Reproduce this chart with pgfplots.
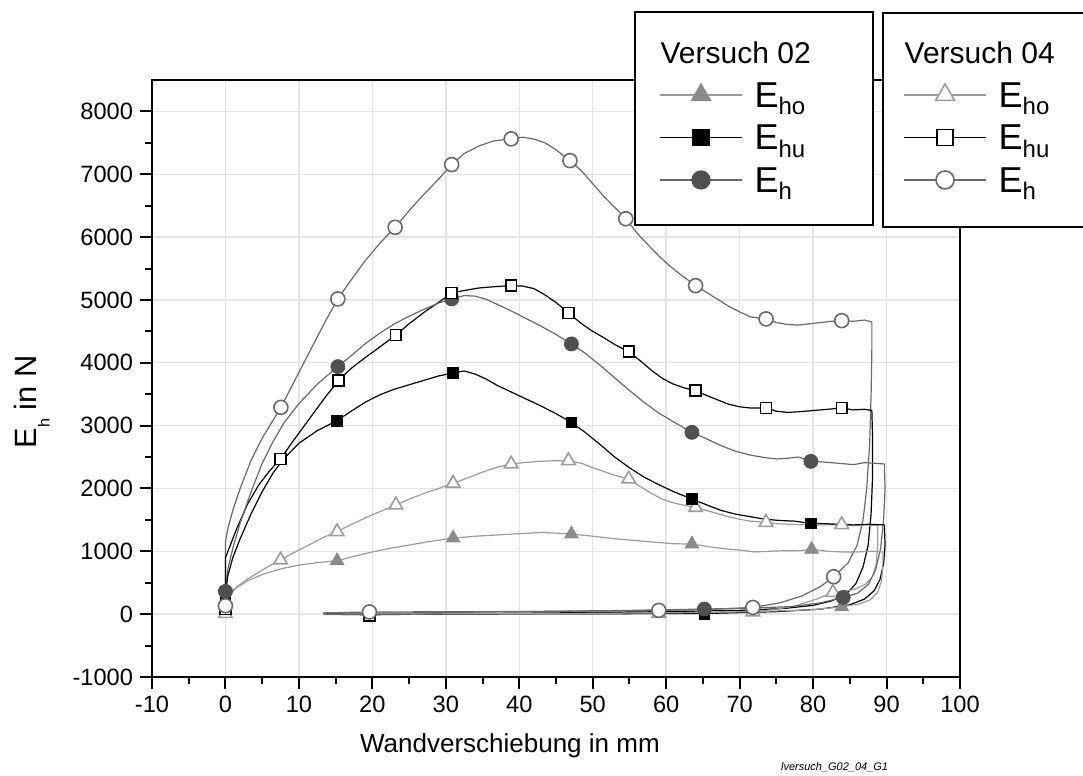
\documentclass[border=0pt]{standalone}
\usepackage{fontspec}
\setmainfont{Liberation Sans}
\usepackage{pgfplots}
\pgfplotsset{compat=1.18}

\definecolor{lgray}{HTML}{9C9C9C}
\definecolor{tgray}{HTML}{8A8A8A}
\definecolor{mgray}{HTML}{6A6A6A}
\definecolor{dgray}{HTML}{505050}

% E with a lowered index, as in the legend boxes
\newcommand{\Eleg}[1]{{\fontsize{18}{20}\selectfont E}\raisebox{-3.8pt}{\fontsize{12}{14}\selectfont #1}}

\pgfplotsset{
  base/.style={at={(0pt,0pt)}, anchor=south west, scale only axis,
    width=404pt, height=298.5pt,
    xmin=-10, xmax=100, ymin=-1000, ymax=8500},
  legbox/.style={hide axis, legend cell align=left,
    legend style={anchor=north west, draw=none, fill=none, inner sep=0pt,
      row sep=0pt, column sep=6pt,
      nodes={inner sep=0pt, text depth=0pt, minimum height=21.25pt},
      font=\fontsize{15}{18}\selectfont},
    legend image code/.code={\draw[mark repeat=2,mark phase=2,##1]
      plot coordinates {(0pt,0pt) (20.5pt,0pt) (41pt,0pt)};}},
}

\begin{document}
\begin{tikzpicture}
\begin{axis}[base,
  xtick={-10,0,...,100}, ytick={-1000,0,...,8000},
  minor x tick num=1, minor y tick num=1,
  tick align=outside, tick pos=left,
  major tick length=6pt, minor tick length=3.5pt,
  tick style={black, line width=1pt},
  axis line style={line width=1pt},
  grid=major, major grid style={black!10, line width=0.7pt},
  scaled ticks=false,
  tick label style={font=\fontsize{11.8}{13}\selectfont},
  /pgf/number format/assume math mode=true,
  /pgf/number format/1000 sep={},
  xlabel={Wandverschiebung in mm},
  ylabel={E\raisebox{-6.5pt}{\fontsize{8}{9}\selectfont h} in N},
  xlabel style={at={(axis description cs:0.443,-0.116)}, anchor=center,
    font=\fontsize{13}{15}\selectfont},
  ylabel style={at={(axis description cs:-0.1485,0.4607)}, anchor=center,
    font=\fontsize{15.4}{18}\selectfont},
]
% ---- lines ----
% Versuch 04, E_h
\addplot[mgray, line width=0.6pt] coordinates {
(0,134)(0,600)(0,1150)(0.3,1350)(1,1650)(2,2000)(3.5,2450)(5,2800)(6.3,3050)(7.55,3291)
(9,3620)(10.5,3960)(12,4300)(13.7,4680)(15.3,5016)(17,5300)(19,5620)(21,5900)(23.1,6156)
(25,6420)(27,6680)(29,6920)(30.8,7154)(32.5,7330)(34.5,7450)(36.5,7530)(38.9,7563)
(40.5,7590)(42,7560)(43.5,7500)(45,7390)(46.9,7217)(48.5,7050)(50,6850)(51.5,6650)
(53,6470)(54.5,6292)(56,6070)(57.5,5880)(59,5700)(60.5,5540)(62,5400)(64,5228)
(65.5,5120)(67,5010)(68.5,4900)(70,4810)(71.5,4730)(73.6,4698)(75,4640)(76.5,4610)
(78,4600)(79.5,4620)(81,4640)(82.5,4660)(83.9,4671)(85.5,4660)(87,4680)(88,4650)
(88,4200)(87.9,3500)(87.7,2700)(87.3,2000)(86.8,1500)(86,1100)(84.8,820)(82.8,595)
(81,440)(78.5,290)(75.5,180)(71.8,107)(67,80)(59,60)(50,50)(40,42)(30,38)(19.6,35)(13.3,20)};
% Versuch 04, E_hu
\addplot[black, line width=0.6pt] coordinates {
(0,80)(0,500)(0,900)(0.5,1050)(1.5,1350)(3,1750)(4.5,2050)(6,2280)(7.5,2469)(9,2720)
(10.5,2960)(12,3200)(13.7,3470)(15.4,3716)(17,3900)(19,4080)(21,4250)(23.2,4443)(25,4620)
(27,4800)(29,4960)(30.8,5112)(32.5,5150)(34.5,5190)(36.5,5210)(38.9,5228)(40.5,5220)
(42,5180)(43.5,5080)(45,4960)(46.7,4793)(48.5,4620)(50,4500)(51.5,4400)(53,4290)
(54.9,4177)(56.5,4030)(58,3880)(59.5,3750)(61,3660)(62.5,3600)(64,3557)(65.5,3480)
(67,3410)(68.5,3340)(70,3300)(71.5,3280)(73.6,3281)(75,3230)(76.5,3210)(78,3220)(80,3240)
(82,3260)(83.9,3281)(85.5,3250)(87,3260)(88,3240)
(88.1,2800)(88.1,2200)(87.9,1600)(87.5,1100)(86.8,750)(85.8,480)(84.5,320)(82.5,210)
(80,140)(76,90)(70,60)(60,40)(45,20)(30,5)(19.6,-10)(13.3,0)};
% Versuch 04, E_ho
\addplot[lgray, line width=0.6pt] coordinates {
(0,10)(0.3,250)(1,380)(2.5,520)(4,630)(5.7,750)(7.5,861)(9.5,990)(11.5,1110)(13.3,1220)
(15.2,1312)(17,1420)(19,1530)(21,1630)(23.2,1737)(25,1830)(27,1920)(29,2000)(31,2081)
(33,2170)(35,2260)(37,2340)(38.9,2389)(40.5,2410)(42.5,2430)(44.5,2440)(46.7,2442)
(48.5,2400)(50,2330)(51.5,2270)(53,2210)(54.9,2150)(56.5,2030)(58,1920)(59.5,1830)
(61,1770)(62.5,1730)(64,1699)(65.5,1650)(67,1600)(68.5,1550)(70,1510)(71.5,1480)
(73.6,1460)(75,1440)(77,1430)(79,1420)(81,1420)(83.9,1423)(85.5,1410)(87,1420)(88.8,1410)
(88.8,1100)(88.6,800)(88.1,600)(87.2,480)(85.8,400)(84.2,360)(82.7,345)(80.5,240)
(77.5,130)(74.5,70)(71.8,35)(65,20)(59,12)(45,5)(30,0)(13.3,-5)};
% Versuch 02, E_h
\addplot[mgray, line width=0.6pt] coordinates {
(0,362)(0.3,700)(1,1050)(2,1450)(3.5,1950)(5,2400)(6.5,2750)(8,3050)(10,3350)(12.5,3660)
(15.3,3939)(17,4100)(19,4300)(21,4470)(23,4620)(25,4740)(27,4850)(29,4950)(30.8,5016)
(32.5,5070)(34,5060)(35.5,5010)(37,4930)(39,4820)(41,4700)(43,4580)(45,4450)(47.1,4300)
(49,4150)(51,3960)(53,3760)(55,3560)(57,3370)(59,3200)(61,3060)(63.5,2893)(65.5,2790)
(67.5,2680)(69.5,2590)(71.5,2530)(73.5,2490)(75,2470)(76.5,2480)(78,2500)(79.7,2431)
(81.5,2420)(83.5,2400)(85.5,2380)(87,2410)(88.5,2400)(89.7,2390)
(89.8,2000)(89.6,1500)(89.2,1050)(88.5,700)(87.5,470)(86,330)(84.1,266)(81,180)(77,120)
(71,95)(65.2,81)(55,60)(40,40)(25,20)(13.3,10)};
% Versuch 02, E_hu
\addplot[black, line width=0.6pt] coordinates {
(0,290)(0.3,600)(1,900)(2,1200)(3.5,1600)(5,1950)(6.5,2250)(8,2480)(10,2720)(12.5,2920)
(15.2,3080)(17,3220)(19,3370)(21,3490)(23,3580)(25,3650)(27,3720)(29,3790)(31,3838)
(32.5,3870)(34,3820)(35.5,3740)(37,3640)(39,3530)(41,3420)(43,3310)(45,3190)(47.1,3052)
(49,2890)(51,2700)(53,2500)(55,2330)(57,2180)(59,2060)(61,1950)(63.5,1832)(65.5,1740)
(67.5,1650)(69.5,1590)(71.5,1550)(73.5,1510)(75.5,1490)(77.5,1480)(79.7,1444)(81.5,1440)
(83.5,1430)(85.5,1420)(87.5,1430)(89.7,1420)
(89.8,1100)(89.6,800)(89.1,550)(88.3,370)(87,240)(85,150)(81,80)(75,40)(65.2,10)(55,8)
(40,5)(25,0)(13.3,0)};
% Versuch 02, E_ho
\addplot[lgray, line width=0.6pt] coordinates {
(0,180)(0.5,300)(1.5,420)(3,530)(5,630)(7.5,720)(10,780)(12.5,820)(15.2,850)(17.5,920)
(20,990)(22.5,1050)(25,1100)(28,1160)(31,1211)(34,1240)(37,1260)(40,1280)(43,1300)
(45,1290)(47.1,1275)(50,1240)(53,1200)(56,1170)(59,1140)(61,1120)(63.5,1116)(66,1070)
(68,1040)(70,1020)(72,990)(74,1000)(76,1010)(78,1010)(79.8,1030)(82,1000)(84,990)
(86,990)(88,1000)(89.5,990)
(89.5,750)(89.3,520)(88.8,350)(87.8,230)(86.2,160)(83.9,118)(80,70)(72,40)(60,20)
(45,10)(30,5)(13.3,0)};
% ---- markers ----
\addplot[only marks, mark=triangle*, mark size=3.9pt, mark options={fill=tgray, draw=tgray}] coordinates {
(0,180)(15.2,850)(31,1211)(47.1,1275)(63.5,1116)(79.8,1030)(83.9,118)};
\addplot[only marks, mark=triangle*, mark size=3.9pt, mark options={fill=white, draw=lgray, line width=0.8pt}] coordinates {
(0,10)(7.5,861)(15.2,1312)(23.2,1737)(31,2081)(38.9,2389)(46.7,2442)(54.9,2150)(64,1699)
(73.6,1460)(83.9,1423)(82.7,345)(71.8,35)(59,12)};
\addplot[only marks, mark=square*, mark size=2.7pt, mark options={fill=black, draw=black}] coordinates {
(0,290)(15.2,3080)(31,3838)(47.1,3052)(63.5,1832)(79.7,1444)(65.2,10)};
\addplot[only marks, mark=*, mark size=3.5pt, mark options={fill=dgray, draw=dgray}] coordinates {
(0,362)(15.3,3939)(30.8,5016)(47.1,4300)(63.5,2893)(79.7,2431)(84.1,266)(65.2,81)};
\addplot[only marks, mark=square*, mark size=2.7pt, mark options={fill=white, draw=black, line width=0.8pt}] coordinates {
(0,80)(7.5,2469)(15.4,3716)(23.2,4443)(30.8,5112)(38.9,5228)(46.7,4793)(54.9,4177)
(64,3557)(73.6,3281)(83.9,3281)(19.6,-25)};
\addplot[only marks, mark=*, mark size=3.5pt, mark options={fill=white, draw=mgray, line width=0.8pt}] coordinates {
(0,134)(7.55,3291)(15.3,5016)(23.1,6156)(30.8,7154)(38.9,7563)(46.9,7217)(54.5,6292)
(64,5228)(73.6,4698)(83.9,4671)(82.8,595)(71.8,107)(59,60)(19.6,35)};
\end{axis}

% legend frames
\draw[line width=1pt, fill=white] (241.5pt,226pt) rectangle (360.5pt,332.5pt);
\draw[line width=1pt, fill=white] (365.5pt,225pt) rectangle (490pt,332pt);

\begin{axis}[base, legbox, legend style={at={(axis description cs:0.6275,1.0824)}}]
\addlegendimage{empty legend}
\addlegendentry{\hspace*{-47pt}Versuch 02}
\addlegendimage{lgray, line width=0.6pt, mark=triangle*, mark size=5.5pt, mark options={fill=tgray, draw=tgray}}
\addlegendentry{\Eleg{ho}}
\addlegendimage{black, line width=0.6pt, mark=square*, mark size=4pt, mark options={fill=black}}
\addlegendentry{\Eleg{hu}}
\addlegendimage{mgray, line width=0.6pt, mark=*, mark size=4.5pt, mark options={fill=dgray, draw=dgray}}
\addlegendentry{\Eleg{h}}
\end{axis}

\begin{axis}[base, legbox, legend style={at={(axis description cs:0.9295,1.0824)}}]
\addlegendimage{empty legend}
\addlegendentry{\hspace*{-47pt}Versuch 04}
\addlegendimage{lgray, line width=0.6pt, mark=triangle*, mark size=5.5pt, mark options={fill=white, draw=lgray, line width=0.8pt}}
\addlegendentry{\Eleg{ho}}
\addlegendimage{black, line width=0.6pt, mark=square*, mark size=4pt, mark options={fill=white, line width=0.8pt}}
\addlegendentry{\Eleg{hu}}
\addlegendimage{mgray, line width=0.6pt, mark=*, mark size=4.5pt, mark options={fill=white, draw=mgray, line width=0.8pt}}
\addlegendentry{\Eleg{h}}
\end{axis}

\node[anchor=base west, font=\fontsize{5.5}{6}\selectfont\itshape] at (311pt,-47pt) {lversuch\_G02\_04\_G1};

\pgfresetboundingbox
\path[use as bounding box] (-76pt,-49.5pt) rectangle (465.5pt,338.5pt);
\end{tikzpicture}
\end{document}
